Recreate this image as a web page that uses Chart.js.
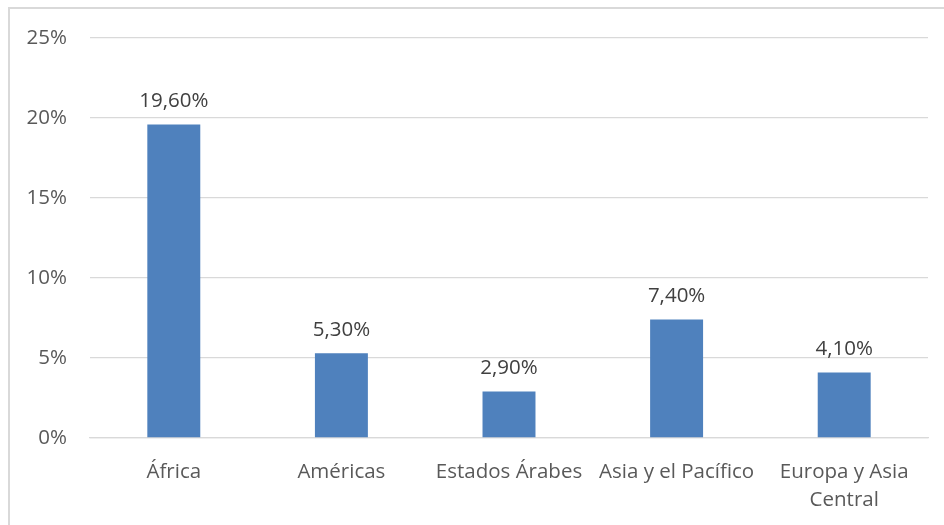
<!DOCTYPE html>
<html lang="es">
<head>
    <meta charset="UTF-8">
    <title>Gráfico</title>
    <script src="https://cdn.jsdelivr.net/npm/chart.js"></script>
    <style>
        body { margin: 0; background: #fff; }
        .marco { position: absolute; left: 8px; top: 7px; width: 960px; height: 540px;
                 border-left: 2px solid #d9d9d9; border-top: 2px solid #d9d9d9; }
        .grafico-container { position: absolute; left: 0; top: 0; width: 944px; height: 525px; }
    </style>
</head>
<body>
    <div class="marco"></div>
    <div class="grafico-container">
        <canvas id="meuGrafico"></canvas>
    </div>

<script>
    // Datos
    const regiones = ["África", "Américas", "Estados Árabes", "Asia y el Pacífico", ["Europa y Asia", "Central"]];
    const valores = [19.6, 5.3, 2.9, 7.4, 4.1];
    const etiquetas = ["19,60%", "5,30%", "2,90%", "7,40%", "4,10%"];
    const ticksY = [0, 5, 10, 15, 20, 25];

    const fuente = "'Open Sans', sans-serif";

    // etiquetas encima de las barras
    const etiquetasBarras = {
        id: "etiquetasBarras",
        afterDatasetsDraw(chart) {
            const c = chart.ctx;
            const meta = chart.getDatasetMeta(0);
            c.save();
            c.font = "20.5px " + fuente;
            c.fillStyle = "#404040";
            c.textAlign = "center";
            c.textBaseline = "bottom";
            meta.data.forEach((bar, i) => {
                c.fillText(etiquetas[i], bar.x, bar.y - 13);
            });
            c.restore();
        }
    };

    const ctx = document.getElementById("meuGrafico").getContext("2d");
    new Chart(ctx, {
        type: "bar",
        data: {
            labels: regiones,
            datasets: [{
                data: valores,
                backgroundColor: "#4f81bd",
                categoryPercentage: 1,
                barPercentage: 0.316
            }]
        },
        options: {
            responsive: true,
            maintainAspectRatio: false,
            animation: false,
            layout: { padding: { top: 38, right: 16, left: 0, bottom: 0 } },
            plugins: { legend: { display: false }, tooltip: { enabled: false } },
            scales: {
                y: {
                    min: 0, max: 25,
                    afterFit(s) { s.width = 90; },
                    afterBuildTicks(s) { s.ticks = ticksY.map(v => ({ value: v })); },
                    grid: { color: "#d9d9d9", lineWidth: 1.3, drawTicks: false },
                    border: { display: false },
                    ticks: {
                        padding: 23,
                        color: "#595959",
                        font: { family: fuente, size: 20.5 },
                        callback: v => v + "%"
                    }
                },
                x: {
                    afterFit(s) { s.height = 87; },
                    grid: { display: false },
                    border: { color: "#d9d9d9", width: 1.3 },
                    ticks: {
                        padding: 12,
                        maxRotation: 0,
                        autoSkip: false,
                        color: "#595959",
                        font: { family: fuente, size: 20.5, lineHeight: 1.37 }
                    }
                }
            }
        },
        plugins: [etiquetasBarras]
    });
</script>
</body>
</html>
